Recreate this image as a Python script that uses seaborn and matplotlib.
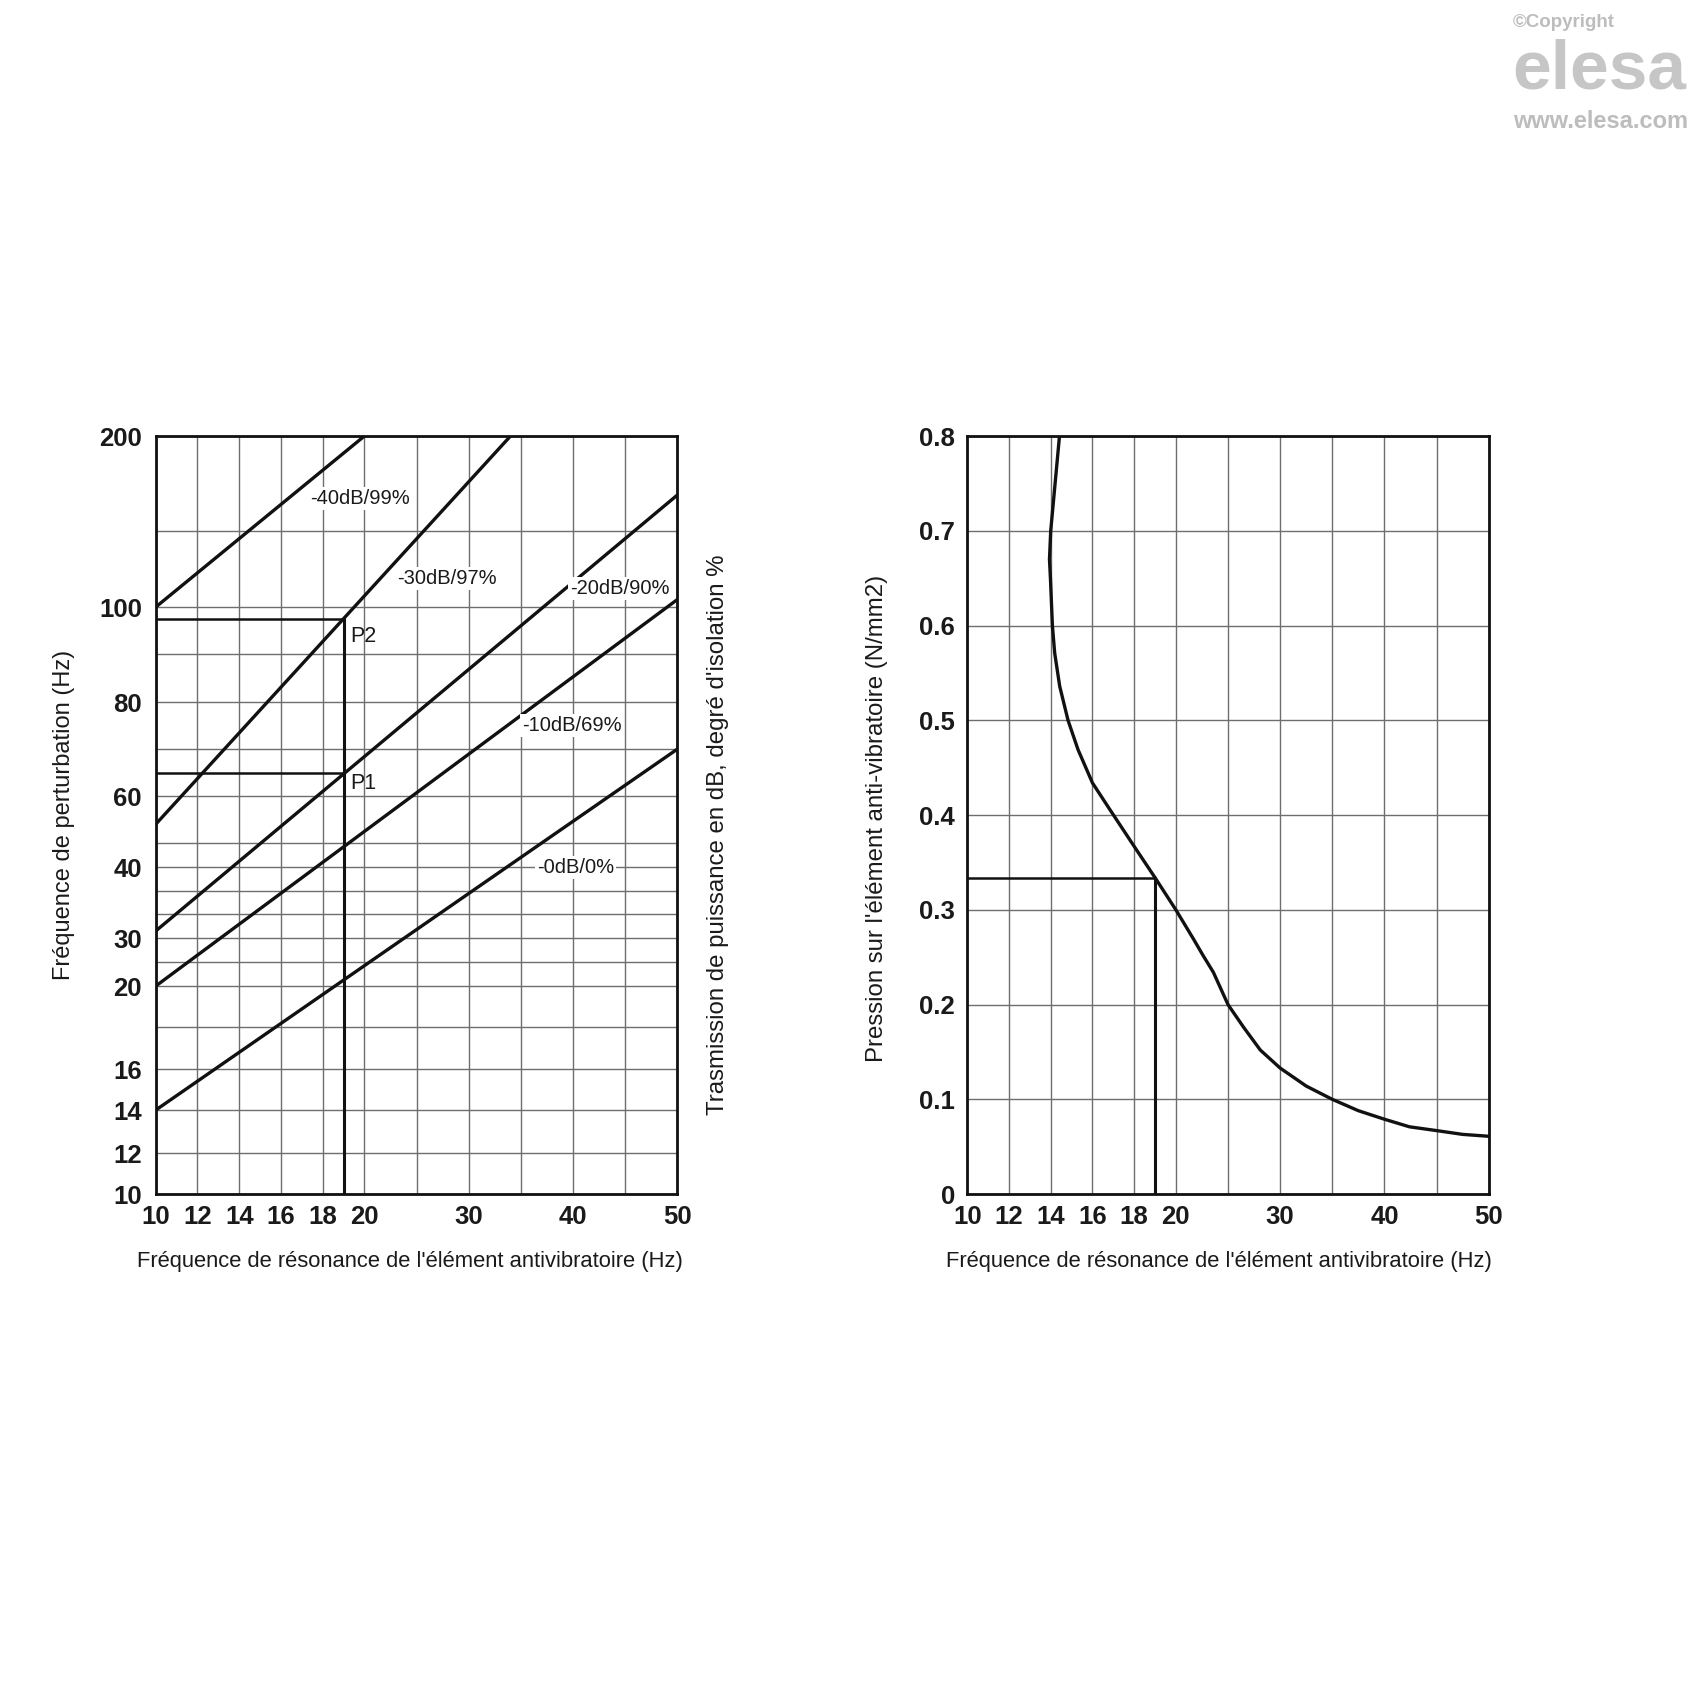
import numpy as np
import matplotlib
matplotlib.use("Agg")
import matplotlib.pyplot as plt
import matplotlib.ticker as mticker
import seaborn as sns

# shared x axis: 10-20 Hz uses 2/5 of the width, 20-50 Hz the rest
x_knots = [10, 20, 50]
x_frac = [0.0, 0.4, 1.0]
x_ticks = [10, 12, 14, 16, 18, 20, 30, 40, 50]
x_minor = [25, 35, 45]

# irregular y axis of the left nomogram (as drawn)
y_knots = [10, 12, 14, 16, 18, 20, 25, 30, 40, 50, 60, 70, 80, 90, 100, 150, 200]
y_frac = [0.0, 0.0541, 0.1108, 0.1649, 0.2203, 0.2744, 0.3061, 0.3377, 0.4314,
          0.4631, 0.5251, 0.5871, 0.6491, 0.7124, 0.7744, 0.8747, 1.0]
y_ticks = [10, 12, 14, 16, 20, 30, 40, 60, 80, 100, 200]
y_minor = [18, 25, 33.33, 36.67, 50, 70, 90, 150]

# isolation lines (start / end points)
db_labels = ["-40dB/99%", "-30dB/97%", "-20dB/90%", "-10dB/69%", "-0dB/0%"]
line_x0 = [10, 10, 10, 10, 10]
line_y0 = [100, 54, 31, 20, 14]
line_x1 = [20, 34, 50, 50, 50]
line_y1 = [200, 200, 169, 105, 70]
label_x = [19.8, 27.9, 44.5, 39.9, 40.2]
label_y = [167, 119, 112, 75, 40]

# working points
p_x = 19
p1_y = 65
p2_y = 97.4

# right chart: pressure vs resonance frequency
press_x = [14.42, 14.21, 14.00, 13.94, 13.99, 14.08, 14.19, 14.43, 14.83, 15.31,
           16.0, 16.83, 18.0, 19.0, 20.0, 21.7, 22.6, 23.6, 25.0, 26.5,
           28.1, 30.0, 32.5, 35.0, 37.5, 40.0, 42.4, 45.0, 47.5, 50.0]
press_y = [0.80, 0.75, 0.70, 0.67, 0.648, 0.60, 0.571, 0.536, 0.50, 0.469,
           0.434, 0.406, 0.367, 0.334, 0.30, 0.269, 0.252, 0.234, 0.20, 0.176,
           0.152, 0.133, 0.114, 0.10, 0.088, 0.079, 0.071, 0.067, 0.063, 0.061]
press_ticks = [0, 0.1, 0.2, 0.3, 0.4, 0.5, 0.6, 0.7, 0.8]
ref_x = 19
ref_y = 0.334


def piecewise(knots, frac):
    return (lambda v: np.interp(v, knots, frac),
            lambda p: np.interp(p, frac, knots))


def seg(ax, xs, ys, lw):
    sns.lineplot(x=xs, y=ys, ax=ax, sort=False, estimator=None,
                 color="#111111", lw=lw)


sns.set_theme(style="white")
plt.rcParams["font.family"] = ["Liberation Sans", "DejaVu Sans"]
ink = "#1a1a1a"
tick_fs = 18.5

fig = plt.figure(figsize=(17, 17), dpi=100)
ax1 = fig.add_axes([0.0916, 0.2976, 0.3069, 0.4459])
ax2 = fig.add_axes([0.5690, 0.2976, 0.3067, 0.4459])

for ax in (ax1, ax2):
    ax.set_xscale("function", functions=piecewise(x_knots, x_frac))
    ax.set_xlim(10, 50)
    ax.xaxis.set_major_locator(mticker.FixedLocator(x_ticks))
    ax.xaxis.set_minor_locator(mticker.FixedLocator(x_minor))
    ax.xaxis.set_major_formatter(mticker.FixedFormatter([str(t) for t in x_ticks]))
    ax.grid(which="both", color="#6e6e6e", lw=1.0)
    ax.tick_params(which="both", length=0)
    ax.tick_params(axis="x", pad=8)
    for s in ax.spines.values():
        s.set_color("#111111")
        s.set_linewidth(2.0)
    ax.set_xlabel("Fréquence de résonance de l'élément antivibratoire (Hz)",
                  fontsize=15.8, color=ink)

# ---- left nomogram
ax1.set_yscale("function", functions=piecewise(y_knots, y_frac))
ax1.set_ylim(10, 200)
ax1.yaxis.set_major_locator(mticker.FixedLocator(y_ticks))
ax1.yaxis.set_minor_locator(mticker.FixedLocator(y_minor))
ax1.yaxis.set_major_formatter(mticker.FixedFormatter([str(t) for t in y_ticks]))
ax1.tick_params(axis="y", pad=10)

for i in range(len(db_labels)):
    seg(ax1, [line_x0[i], line_x1[i]], [line_y0[i], line_y1[i]], 2.4)
    ax1.text(label_x[i], label_y[i], db_labels[i], ha="center", va="center",
             fontsize=14.5, color=ink,
             bbox=dict(facecolor="white", edgecolor="none", pad=1.5))

seg(ax1, [10, p_x], [p2_y, p2_y], 1.8)
seg(ax1, [10, p_x], [p1_y, p1_y], 1.8)
seg(ax1, [p_x, p_x], [10, p2_y], 2.2)
ax1.text(p_x + 0.3, p2_y - 3.7, "P2", ha="left", va="center", fontsize=15.5, color=ink)
ax1.text(p_x + 0.3, p1_y - 2.4, "P1", ha="left", va="center", fontsize=15.5, color=ink)

ax1.set_ylabel("Fréquence de perturbation (Hz)", fontsize=17, color=ink)
ax1.yaxis.set_label_coords(-0.155, 0.5)
ax1.xaxis.set_label_coords(0.487, -0.0745)
ax1.text(1.078, 0.474, "Trasmission de puissance en dB, degré d'isolation %",
         transform=ax1.transAxes, rotation=90, ha="center", va="center",
         fontsize=17.3, color=ink)

# ---- right chart
ax2.set_ylim(0, 0.8)
ax2.yaxis.set_major_locator(mticker.FixedLocator(press_ticks))
ax2.yaxis.set_major_formatter(
    mticker.FixedFormatter(["0"] + [f"{t:.1f}" for t in press_ticks[1:]]))
ax2.tick_params(axis="y", pad=9)

sns.lineplot(x=press_x, y=press_y, ax=ax2, sort=False, estimator=None,
             color="#111111", lw=2.4)
seg(ax2, [10, ref_x], [ref_y, ref_y], 1.8)
seg(ax2, [ref_x, ref_x], [0, ref_y], 2.2)

ax2.set_ylabel("Pression sur l'élément anti-vibratoire (N/mm2)", fontsize=17.3,
               color=ink)
ax2.yaxis.set_label_coords(-0.152, 0.495)
ax2.xaxis.set_label_coords(0.483, -0.0745)

for ax in (ax1, ax2):
    for lab in ax.get_xticklabels() + ax.get_yticklabels():
        lab.set_fontsize(tick_fs)
        lab.set_fontweight("bold")
        lab.set_color(ink)

# watermark
fig.text(0.8898, 0.9865, "©Copyright", fontsize=13.5, fontweight="bold",
         color="#bdbdbd", ha="left", va="center")
fig.text(0.8895, 0.948, "elesa", fontsize=50, fontweight="heavy",
         color="#c6c6c6", ha="left", va="baseline")
fig.text(0.8898, 0.9284, "www.elesa.com", fontsize=17, fontweight="bold",
         color="#bdbdbd", ha="left", va="center")

fig.savefig("out.png", dpi=100, facecolor="white")
